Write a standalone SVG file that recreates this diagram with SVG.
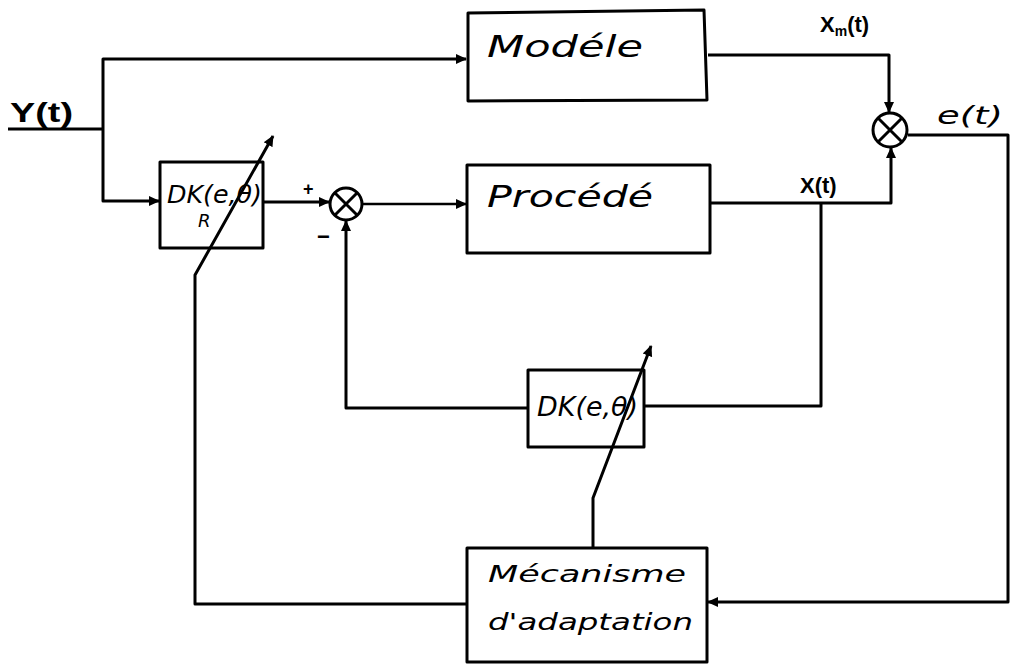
<svg xmlns="http://www.w3.org/2000/svg" width="1014" height="669" viewBox="0 0 1014 669">
<style>
.box{fill:none;stroke:#000;stroke-width:3;stroke-linejoin:round}
.ln{fill:none;stroke:#000;stroke-width:3;stroke-linejoin:round}
.lt{fill:none;stroke:#000;stroke-width:2.5}
.hw{font-family:"DejaVu Sans",sans-serif;font-style:italic;fill:#000}
.lb{font-family:"Liberation Sans",sans-serif;font-weight:bold;fill:#000}
</style>
<defs>
<marker id="ah" markerWidth="12" markerHeight="12" refX="10" refY="6" orient="auto" markerUnits="userSpaceOnUse">
<path d="M0,1 L11,6 L0,11 Z" fill="#000"/>
</marker>
</defs>
<rect width="1014" height="669" fill="#fff"/>
<g id="connectors">
<path class="ln" d="M8,129 H103"/>
<path class="ln" d="M103,129 V59 H466" marker-end="url(#ah)"/>
<path class="ln" d="M103,129 V201 H159" marker-end="url(#ah)"/>
<path class="ln" d="M263,202 H329" marker-end="url(#ah)"/>
<path class="lt" d="M362,204 H466" marker-end="url(#ah)"/>
<path class="ln" d="M708,55 H889 V112" marker-end="url(#ah)"/>
<path class="ln" d="M710,203 H891 V148" marker-end="url(#ah)"/>
<path class="ln" d="M821,203 V406 H645"/>
<path class="ln" d="M528,408 H346 V221" marker-end="url(#ah)"/>
<path class="ln" d="M908,135 H1008 V602 H708" marker-end="url(#ah)"/>
<path class="ln" d="M467,604 H195 V275 L273,136" marker-end="url(#ah)"/>
<path class="ln" d="M593,548 V498 L651,346" marker-end="url(#ah)"/>
</g>
<g id="sum2">
<circle cx="346" cy="204" r="16" fill="#fff" stroke="#000" stroke-width="3"/>
<path class="ln" d="M335,193 L357,215 M357,193 L335,215"/>
<text class="lb" x="303" y="195" font-size="18">+</text>
<text class="lb" x="317" y="244" font-size="22">−</text>
</g>
<g id="sum1">
<circle cx="890" cy="130" r="17" fill="#fff" stroke="#000" stroke-width="3"/>
<path class="ln" d="M878,118 L902,142 M902,118 L878,142"/>
</g>
<g id="dk1">
<rect class="box" x="160" y="162" width="103" height="86"/>
<text class="hw" x="167" y="203" font-size="24" textLength="95" lengthAdjust="spacingAndGlyphs">DK(e,θ)</text>
<text class="hw" x="198" y="227" font-size="18">R</text>
</g>
<g id="model">
<path class="box" d="M468,13 L704,10 L707,100 L468,101 Z"/>
<text class="hw" x="487" y="57" font-size="30" textLength="156" lengthAdjust="spacingAndGlyphs">Modéle</text>
</g>
<g id="process">
<rect class="box" x="467" y="165" width="243" height="88"/>
<text class="hw" x="487" y="207" font-size="30" textLength="166" lengthAdjust="spacingAndGlyphs">Procédé</text>
</g>
<g id="dk2">
<rect class="box" x="528" y="370" width="116" height="77"/>
<text class="hw" x="537" y="416" font-size="26" textLength="101" lengthAdjust="spacingAndGlyphs">DK(e,θ)</text>
</g>
<g id="mechanism">
<rect class="box" x="467" y="548" width="240" height="114"/>
<text class="hw" x="488" y="582" font-size="23" textLength="198" lengthAdjust="spacingAndGlyphs">Mécanisme</text>
<text class="hw" x="488" y="630" font-size="23" textLength="205" lengthAdjust="spacingAndGlyphs">d'adaptation</text>
</g>
<g id="labels">
<text class="lb" x="10" y="122" font-size="28" textLength="63" lengthAdjust="spacingAndGlyphs">Y(t)</text>
<text class="lb" x="820" y="32" font-size="22">X<tspan font-size="14" dy="4">m</tspan><tspan dy="-4">(t)</tspan></text>
<text class="hw" x="937" y="124" font-size="24" textLength="66" lengthAdjust="spacingAndGlyphs">e(t)</text>
<text class="lb" x="800" y="193" font-size="22">X(t)</text>
</g>
</svg>
